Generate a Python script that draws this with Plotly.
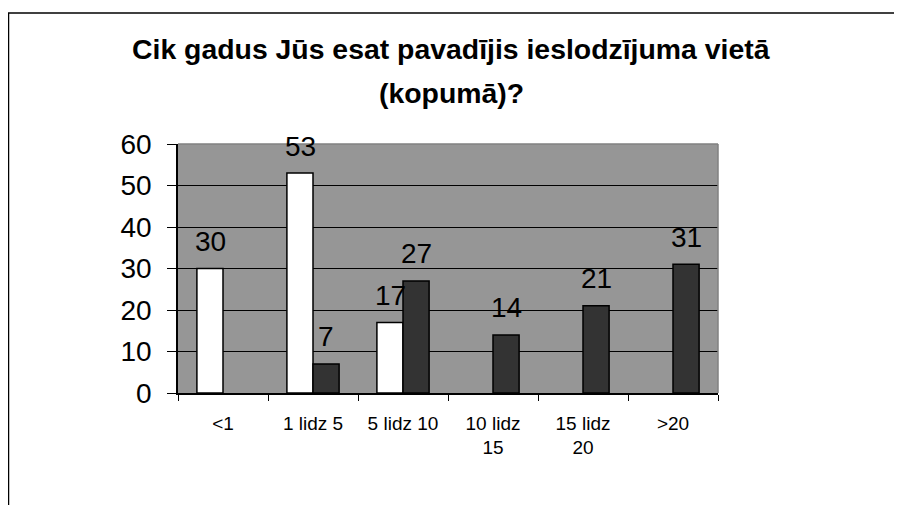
import plotly.graph_objects as go

categories = ["<1", "1 lidz 5", "5 lidz 10", "10 lidz 15", "15 lidz 20", ">20"]
tick_labels = ["<1", "1 lidz 5", "5 lidz 10", "10 lidz<br>15", "15 lidz<br>20", ">20"]
series_white = [30, 53, 17, None, None, None]
series_dark = [None, 7, 27, 14, 21, 31]
title_line1 = "Cik gadus Jūs esat pavadījis ieslodzījuma vietā"
title_line2 = "(kopumā)?"

FONT = "Arial, Liberation Sans, sans-serif"
OFF = 8  # page body margin
W, H = 902 - OFF, 505 - OFF
L, T = 178 - OFF, 144 - OFF
R = W - (718 - OFF)
B = H - (393 - OFF)
PW, PH = W - L - R, H - T - B


def px_x(px):
    return (px - OFF - L) / PW


def px_y(py):
    return (H - B - (py - OFF)) / PH


fig = go.Figure()
fig.add_trace(go.Bar(x=categories, y=series_white, name="A",
                     marker=dict(color="#FFFFFF", line=dict(color="#000000", width=1.5))))
fig.add_trace(go.Bar(x=categories, y=series_dark, name="B",
                     marker=dict(color="#333333", line=dict(color="#000000", width=1.5))))

annotations = []
for cat, v in zip(categories, series_white):
    if v is not None:
        annotations.append(dict(x=cat, y=v, text=str(v), showarrow=False, xshift=-13, yshift=27,
                                yanchor="middle", font=dict(family=FONT, size=28, color="#000")))
for cat, v in zip(categories, series_dark):
    if v is not None:
        annotations.append(dict(x=cat, y=v, text=str(v), showarrow=False, xshift=13, yshift=27,
                                yanchor="middle", font=dict(family=FONT, size=28, color="#000")))

annotations.append(dict(xref="paper", yref="paper", x=px_x(451), y=px_y(49), text="<b>" + title_line1 + "</b>",
                        showarrow=False, xanchor="center", yanchor="middle",
                        font=dict(family=FONT, size=28.4, color="#000")))
annotations.append(dict(xref="paper", yref="paper", x=px_x(451), y=px_y(93), text="<b>" + title_line2 + "</b>",
                        showarrow=False, xanchor="center", yanchor="middle",
                        font=dict(family=FONT, size=28.4, color="#000")))

shapes = [
    # outer frame (partially visible)
    dict(type="line", xref="paper", yref="paper", x0=px_x(8.5), x1=px_x(8.5), y0=px_y(13), y1=px_y(520),
         line=dict(color="#000000", width=1.5)),
    dict(type="line", xref="paper", yref="paper", x0=px_x(8), x1=px_x(920), y0=px_y(13), y1=px_y(13),
         line=dict(color="#000000", width=1.5)),
    # plot area border (top and right)
    dict(type="line", xref="paper", yref="paper", x0=0, x1=1, y0=1, y1=1,
         line=dict(color="#808080", width=1.5)),
    dict(type="line", xref="paper", yref="paper", x0=1, x1=1, y0=0, y1=1,
         line=dict(color="#808080", width=1.5)),
]

fig.update_layout(
    width=W, height=H,
    margin=dict(l=L, r=R, t=T, b=B),
    paper_bgcolor="#FFFFFF",
    plot_bgcolor="#969696",
    barmode="group",
    bargap=0.42,
    bargroupgap=0,
    showlegend=False,
    annotations=annotations,
    shapes=shapes,
    font=dict(family=FONT, color="#000"),
)
fig.update_xaxes(
    type="category",
    tickmode="array", tickvals=categories, ticktext=tick_labels,
    tickson="boundaries", ticks="outside", ticklen=6, tickcolor="#000", tickwidth=1,
    showline=True, linecolor="#000", linewidth=1.5,
    showgrid=False,
    ticklabelstandoff=12,
    tickfont=dict(family=FONT, size=19, color="#000"),
)
fig.update_yaxes(
    range=[0, 60], dtick=10, tick0=0,
    ticks="outside", ticklen=9, tickcolor="#000", tickwidth=1,
    showline=True, linecolor="#000", linewidth=1.5,
    showgrid=True, gridcolor="#000000", gridwidth=1,
    zeroline=False,
    ticklabelstandoff=10,
    tickfont=dict(family=FONT, size=28, color="#000"),
)

fig.write_html("out.html")
